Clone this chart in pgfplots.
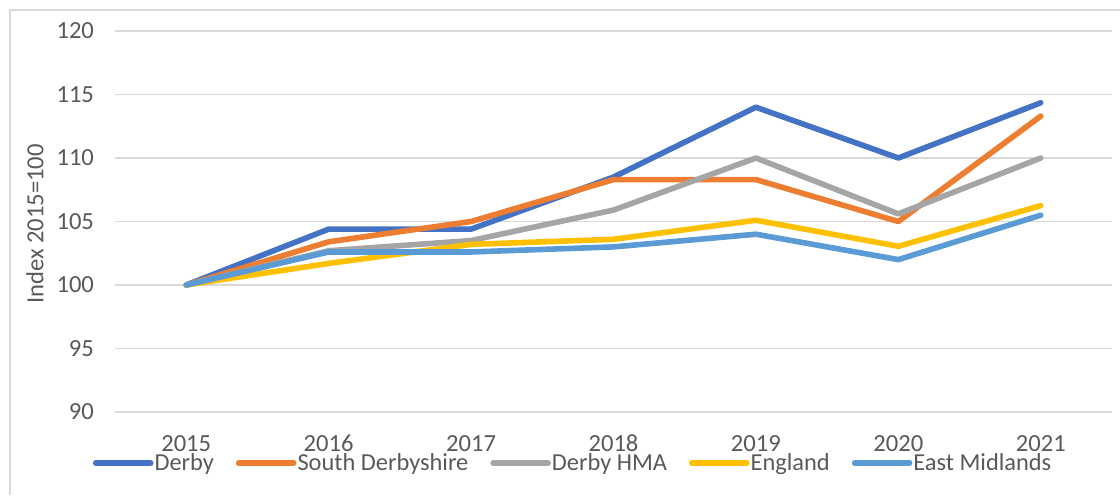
\documentclass[border=0pt]{standalone}
\usepackage{pgfplots}
\pgfplotsset{compat=1.18}
\usepackage{fontspec}
\setmainfont{Carlito}
\definecolor{cDerby}{HTML}{4472C4}
\definecolor{cSD}{HTML}{ED7D31}
\definecolor{cHMA}{HTML}{A5A5A5}
\definecolor{cEng}{HTML}{FFC000}
\definecolor{cEM}{HTML}{5B9BD5}
\definecolor{txt}{HTML}{595959}
\definecolor{grd}{HTML}{D9D9D9}
\begin{document}
\begin{tikzpicture}[x=1pt,y=1pt]
\path[use as bounding box] (0,0) rectangle (560,247.5);
\draw[grd, line width=0.8pt] (5,0) -- (5,242.5) -- (560,242.5);
\begin{axis}[
  at={(57.5pt,41.5pt)}, anchor=south west,
  scale only axis, width=498.5pt, height=190.5pt,
  xmin=-0.5, xmax=6.5, ymin=90, ymax=120,
  xtick={0,...,6},
  xticklabels={2015,2016,2017,2018,2019,2020,2021},
  ytick={90,95,...,120},
  ymajorgrids, grid style={grd, line width=0.8pt},
  axis line style={draw=none},
  major tick length=0pt,
  tick label style={font=\fontsize{12.3}{14}\selectfont, text=txt},
  /pgf/number format/assume math mode=true,
  yticklabel style={xshift=-7pt},
  xticklabel style={yshift=-8pt},
  legend columns=5,
  legend style={at={(0.459,-0.134)}, anchor=center, draw=none, fill=none,
    font=\fontsize{12.2}{14}\selectfont, text=txt,
    /tikz/every even column/.append style={column sep=10.5pt},
    inner sep=0pt, nodes={inner sep=0.5pt}},
  legend image code/.code={\draw[#1, line width=2.8pt, line cap=round] (0pt,0pt) -- (27.5pt,0pt);},
  every axis plot/.append style={line width=2.8pt, line join=round, line cap=round, mark=none},
  clip=false,
]
\addplot[cDerby] coordinates {(0,100) (1,104.4) (2,104.4) (3,108.5) (4,114.0) (5,110.0) (6,114.35)};
\addlegendentry{Derby}
\addplot[cSD] coordinates {(0,100) (1,103.4) (2,105.0) (3,108.3) (4,108.3) (5,105.0) (6,113.3)};
\addlegendentry{South Derbyshire}
\addplot[cHMA] coordinates {(0,100) (1,102.7) (2,103.5) (3,105.9) (4,110.0) (5,105.6) (6,110.0)};
\addlegendentry{Derby HMA}
\addplot[cEng] coordinates {(0,100) (1,101.7) (2,103.2) (3,103.6) (4,105.1) (5,103.05) (6,106.25)};
\addlegendentry{England}
\addplot[cEM] coordinates {(0,100) (1,102.6) (2,102.6) (3,103.0) (4,104.0) (5,102.0) (6,105.5)};
\addlegendentry{East Midlands}
\end{axis}
\node[rotate=90, text=txt, font=\fontsize{12.3}{14}\selectfont] at (17.5,135.5) {Index 2015=100};
\end{tikzpicture}
\end{document}
